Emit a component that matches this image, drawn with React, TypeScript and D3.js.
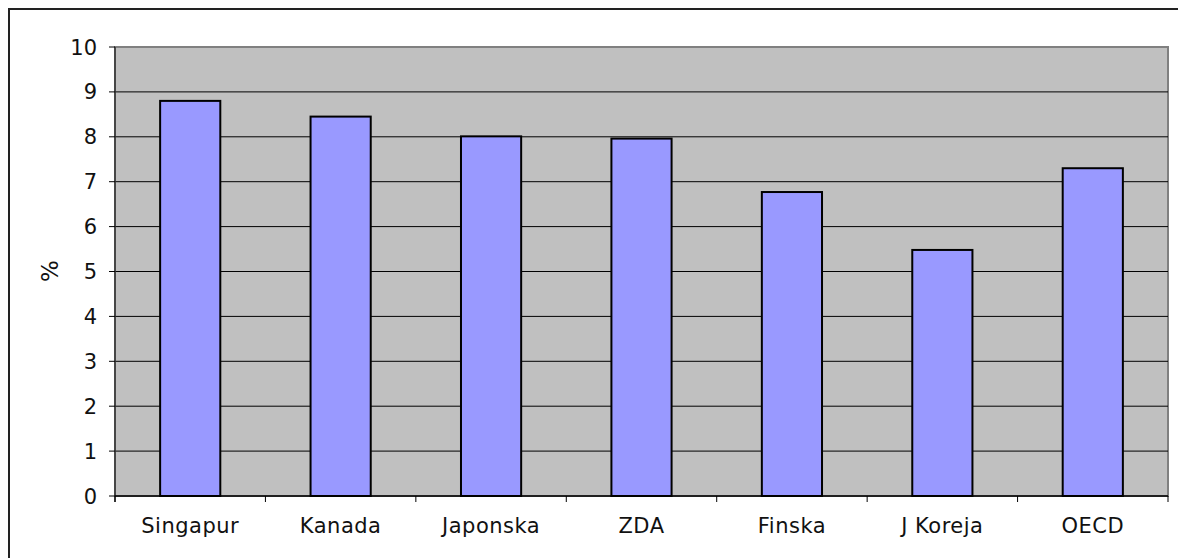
import React from "react";
import * as d3 from "d3";

const categories = ["Singapur", "Kanada", "Japonska", "ZDA", "Finska", "J Koreja", "OECD"];
const values = [8.8, 8.45, 8.01, 7.96, 6.77, 5.48, 7.3];
const yTicks = [0, 1, 2, 3, 4, 5, 6, 7, 8, 9, 10];
const yLabel = "%";

export default function App() {
  const W = 1178, H = 558;
  const left = 115, right = 1168, top = 47, bottom = 496;
  const x = d3.scaleBand<string>().domain(categories).range([left, right]).paddingInner(0).paddingOuter(0);
  const y = d3.scaleLinear().domain([0, 10]).range([bottom, top]);
  const bw = x.bandwidth() * 0.4;
  const font = "'DejaVu Sans', Verdana, sans-serif";
  const boundaries = categories.map((c) => x(c)!).concat([right]);
  return (
    <svg width={W} height={H} style={{ position: "absolute", left: 0, top: 0, display: "block", background: "#fff" }}>
      <rect x={9} y={9} width={1300} height={700} fill="#fff" stroke="#222" strokeWidth={2} />
      <rect x={left} y={top} width={right - left} height={bottom - top} fill="#C0C0C0" stroke="#808080" strokeWidth={2} />
      {yTicks.filter((t) => t > 0 && t < 10).map((t) => (
        <line key={"g" + t} x1={left} x2={right} y1={y(t)} y2={y(t)} stroke="#000" strokeWidth={1} />
      ))}
      {categories.map((c, i) => {
        const cx = x(c)! + x.bandwidth() / 2;
        return (
          <rect key={c} x={cx - bw / 2} y={y(values[i])} width={bw} height={bottom - y(values[i])}
            fill="#9999FF" stroke="#000" strokeWidth={2} />
        );
      })}
      <line x1={left} x2={left} y1={top} y2={bottom + 6} stroke="#333" strokeWidth={1.5} />
      <line x1={left} x2={right} y1={bottom} y2={bottom} stroke="#000" strokeWidth={1.5} />
      {yTicks.map((t) => (
        <g key={"t" + t}>
          <line x1={left - 6} x2={left} y1={y(t)} y2={y(t)} stroke="#000" strokeWidth={1} />
          <text x={97} y={y(t)} dy="0.36em" textAnchor="end" fontFamily={font} fontSize={21} letterSpacing={0} fill="#111">{t}</text>
        </g>
      ))}
      {boundaries.map((b, i) => (
        <line key={"xt" + i} x1={b} x2={b} y1={bottom} y2={bottom + 6} stroke="#000" strokeWidth={1} />
      ))}
      {categories.map((c) => (
        <text key={"l" + c} x={x(c)! + x.bandwidth() / 2} y={533} textAnchor="middle" fontFamily={font} fontSize={21} letterSpacing={0.5} fill="#111">{c}</text>
      ))}
      <text transform={`translate(58,271) rotate(-90)`} textAnchor="middle" fontFamily={font} fontSize={23} fill="#111">{yLabel}</text>
    </svg>
  );
}
